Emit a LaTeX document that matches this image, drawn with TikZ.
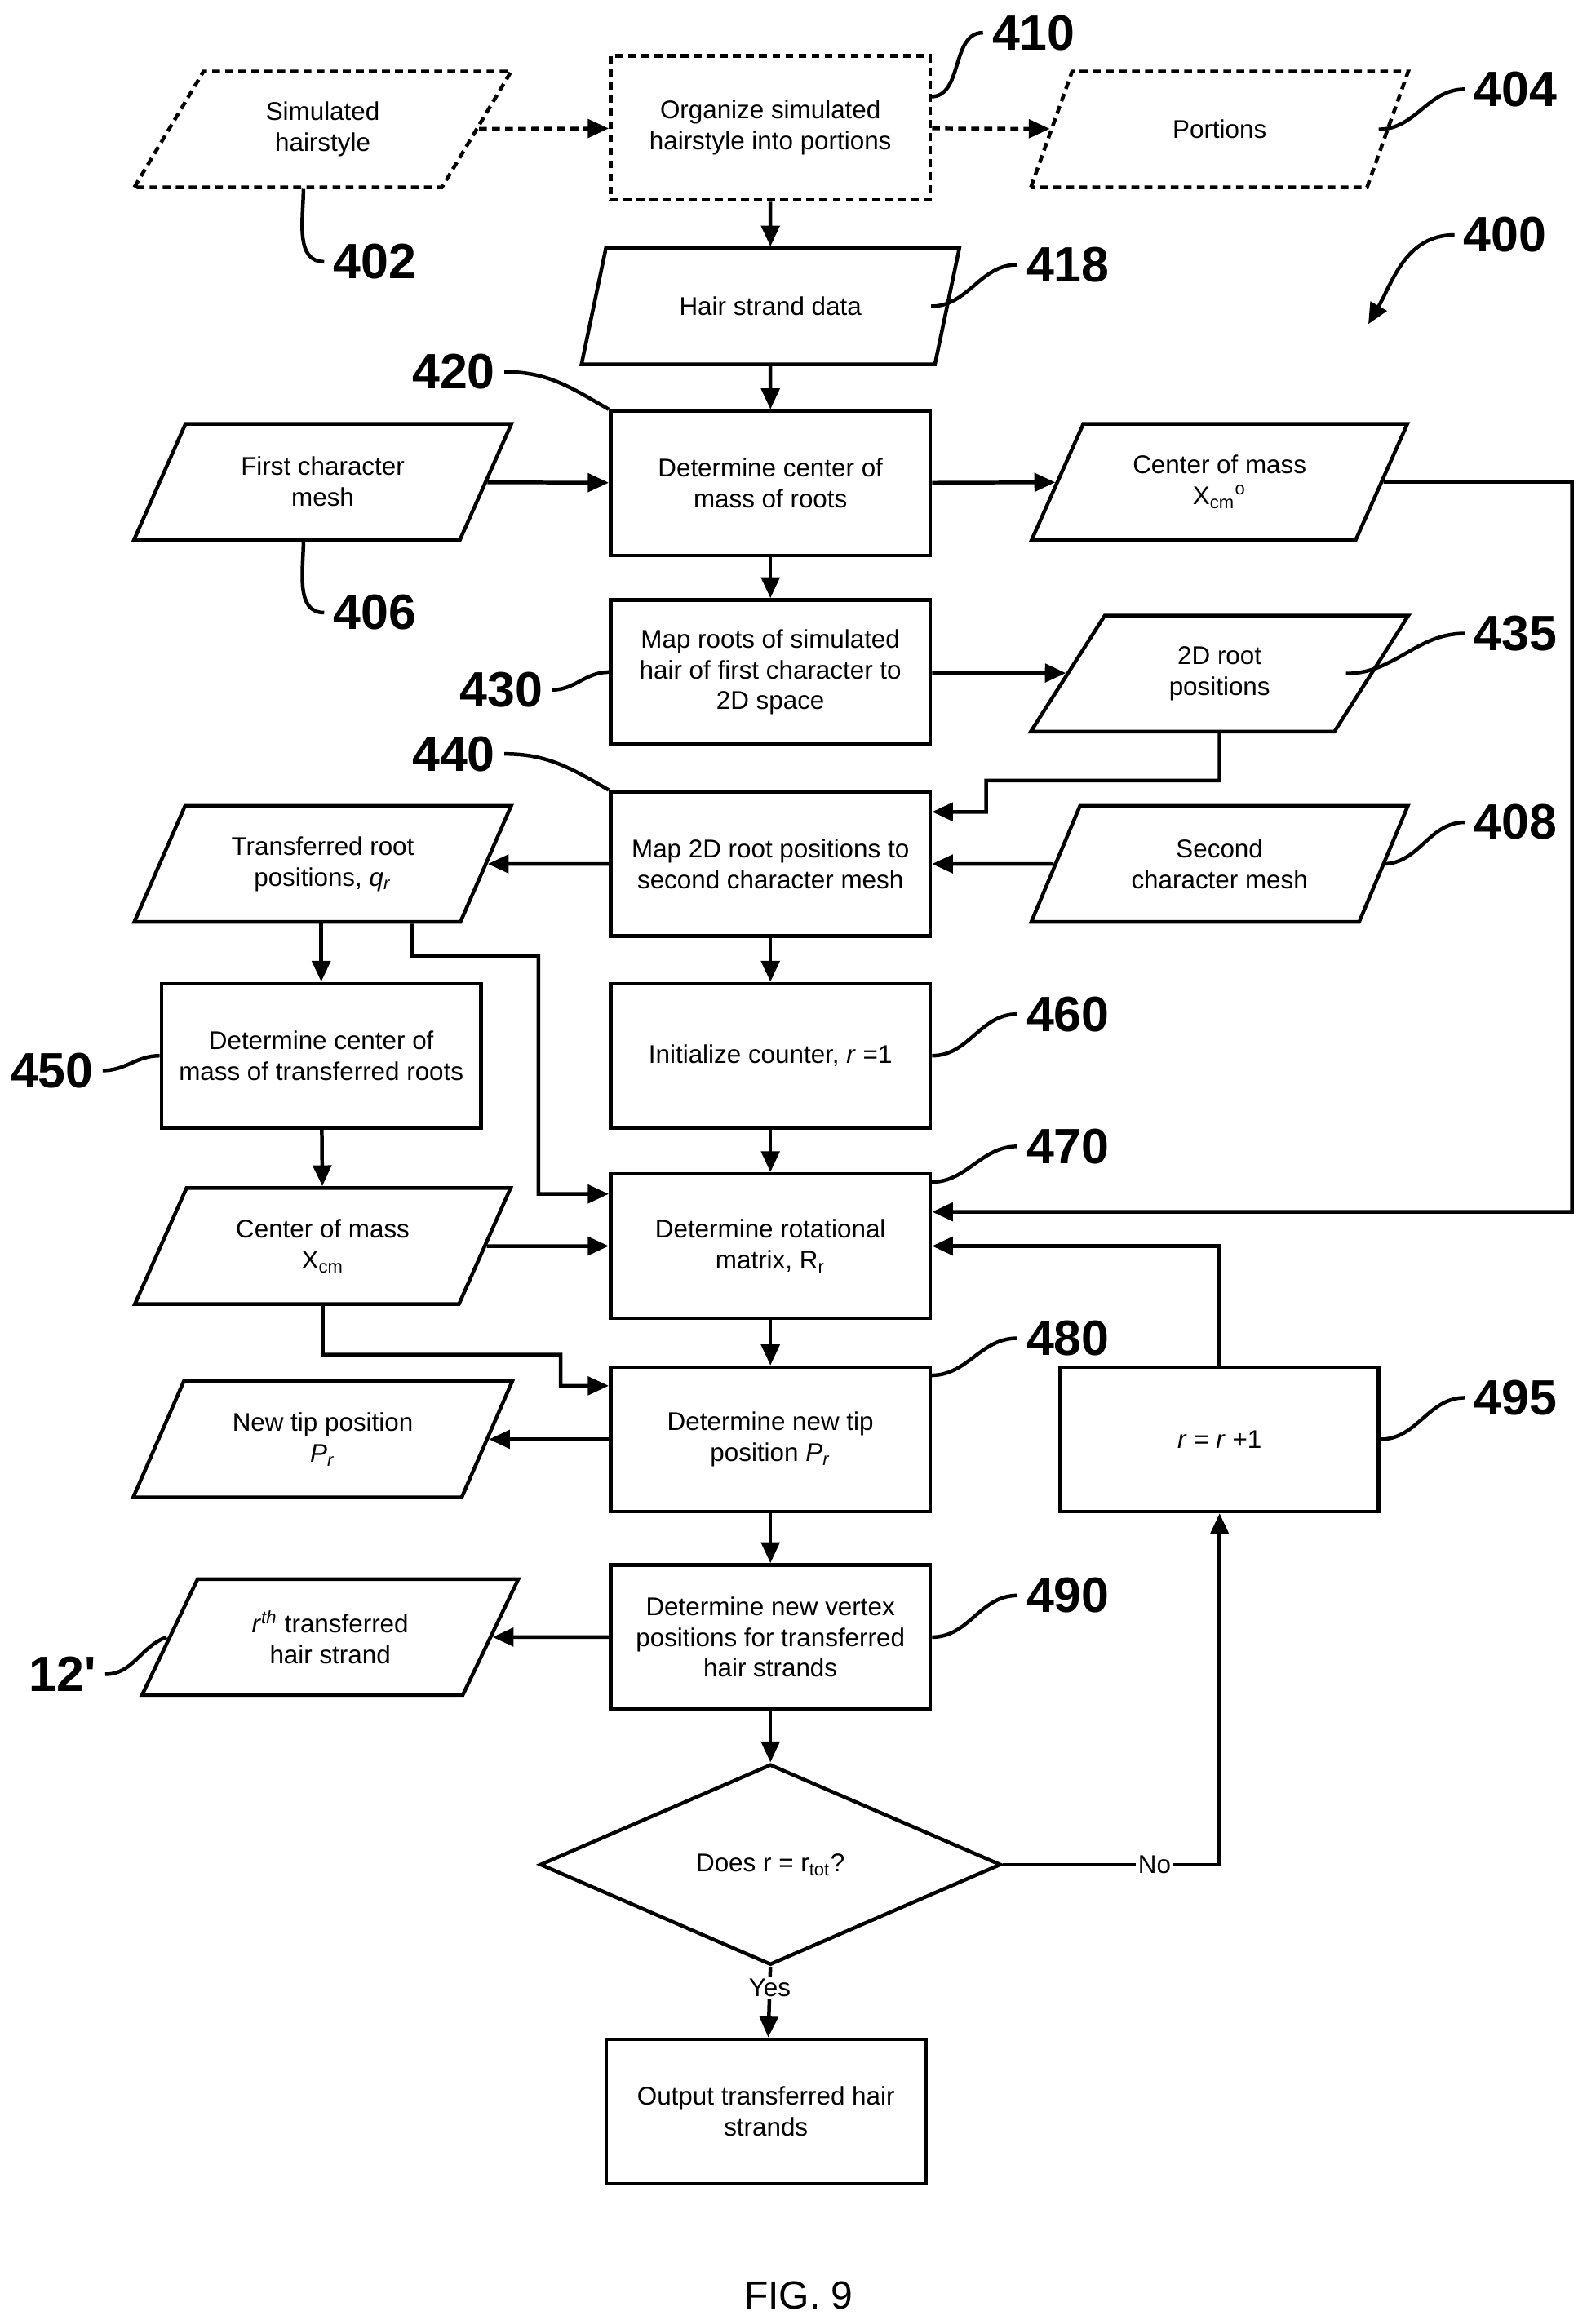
\documentclass[tikz,border=0pt]{standalone}
\usepackage{fontspec}
\setmainfont{Liberation Sans}
\usepackage{tikz}
\usetikzlibrary{positioning,arrows.meta,shapes.geometric}

\begin{document}
\begin{tikzpicture}[x=0.02cm, y=-0.02cm,
        font=\fontsize{9.8}{11.8}\selectfont,
        process/.style={rectangle, draw, line width=1.4pt, minimum width=4.3cm, minimum height=1.94cm, align=center, inner sep=2pt},
        data/.style={trapezium, trapezium left angle=60, trapezium right angle=120, trapezium stretches=true, draw, line width=1.4pt, minimum width=5.1cm, minimum height=1.56cm, align=center, inner sep=1pt},
        test/.style={diamond, draw, line width=1.4pt, minimum width=6.2cm, minimum height=2.7cm, inner sep=0pt},
        opt/.style={dash pattern=on 3pt off 2pt},
        arrow/.style={-{Triangle[length=8pt,width=7pt]}, line width=1.4pt},
        lead/.style={line width=1.4pt},
        num/.style={font=\fontsize{19}{19}\selectfont\bfseries}
    ]
    \useasboundingbox (0,0) rectangle (1067,1563);

    % Top row (optional steps)
    \node[data, opt] (sim) at (217,87) {Simulated\\hairstyle};
    \node[process, opt] (organize) at (518,86) {Organize simulated\\hairstyle into portions};
    \node[data, opt] (portions) at (820,87) {Portions};

    % Main column
    \node[data] (strands) at (518,206) {Hair strand data};
    \node[process] (com) at (518,325) {Determine center of\\mass of roots};
    \node[data] (mesh1) at (217,324) {First character\\mesh};
    \node[data] (comxo) at (820,324) {Center of mass\\X\textsubscript{cm}\textsuperscript{o}};
    \node[process] (maproots) at (518,452) {Map roots of simulated\\hair of first character to\\2D space};
    \node[data] (pos2d) at (820,453) {2D root\\positions};
    \node[process] (map2d) at (518,581) {Map 2D root positions to\\second character mesh};
    \node[data] (transf) at (217,581) {Transferred root\\positions, \textit{q}\textsubscript{\textit{r}}};
    \node[data] (mesh2) at (820,581) {Second\\character mesh};
    \node[process] (comt) at (216,710) {Determine center of\\mass of transferred roots};
    \node[process] (init) at (518,710) {Initialize counter, \textit{r} =1};
    \node[data] (comx) at (217,838) {Center of mass\\X\textsubscript{cm}};
    \node[process] (rot) at (518,838) {Determine rotational\\matrix, R\textsubscript{r}};
    \node[data] (tip) at (217,968) {New tip position\\\textit{P}\textsubscript{\textit{r}}};
    \node[process] (newtip) at (518,968) {Determine new tip\\position \textit{P}\textsubscript{\textit{r}}};
    \node[process, minimum width=4.28cm] (incr) at (820,968) {\textit{r} = \textit{r} +1};
    \node[data] (rth) at (222,1101) {\textit{r}\textsuperscript{\textit{th}} transferred\\hair strand};
    \node[process] (vertex) at (518,1101) {Determine new vertex\\positions for transferred\\hair strands};
    \node[test] (done) at (518,1254) {Does r = r\textsubscript{tot}?};
    \node[process] (output) at (515,1420) {Output transferred hair\\strands};
    \node[font=\fontsize{15}{15}\selectfont] (fig) at (537,1544) {FIG. 9};

    % Connect everything
    \draw[arrow, opt] (sim) -- (organize);
    \draw[arrow, opt] (organize) -- (portions);
    \draw[arrow] (organize) -- (strands);
    \draw[arrow] (strands) -- (com);
    \draw[arrow] (mesh1) -- (com);
    \draw[arrow] (com) -- (comxo);
    \draw[arrow] (com) -- (maproots);
    \draw[arrow] (maproots) -- (pos2d);
    \draw[arrow] (pos2d.south) -- (820,525) -- (663,525) |- ([yshift=0.7cm]map2d.east);
    \draw[arrow] (mesh2) -- (map2d);
    \draw[arrow] (map2d) -- (transf);
    \draw[arrow] (map2d) -- (init);
    \draw[arrow] (transf.south -| comt) -- (comt);
    \draw[arrow] ([xshift=1.2cm]transf.south) -- (277,643) -- (362,643) |- ([yshift=0.7cm]rot.west);
    \draw[arrow] (comt) -- (comx);
    \draw[arrow] (comx) -- (rot);
    \draw[arrow] (init) -- (rot);
    \draw[arrow] (comxo.east) -- (1057,324) |- ([yshift=0.46cm]rot.east);
    \draw[arrow] (rot) -- (newtip);
    \draw[arrow] (comx.south) -- (217,911) -- (377,911) |- ([yshift=0.72cm]newtip.west);
    \draw[arrow] (newtip) -- (tip);
    \draw[arrow] (incr.north) |- (rot.east);
    \draw[arrow] (newtip) -- (vertex);
    \draw[arrow] (vertex) -- (rth);
    \draw[arrow] (vertex) -- (done);
    \draw[arrow] (done.east) -| node[pos=0.35, fill=white, inner sep=1pt] {No} (incr.south);
    \draw[arrow] (done.south) -- node[pos=0.3, fill=white, inner sep=1pt] {Yes} (output);

    % Reference numerals
    \node[num] (n410) at (695,22) {410};
    \node[num] (n404) at (1019,60) {404};
    \node[num] (n402) at (252,176) {402};
    \node[num] (n418) at (718,178) {418};
    \node[num] (n400) at (1012,158) {400};
    \node[num] (n420) at (305,250) {420};
    \node[num] (n406) at (252,412) {406};
    \node[num] (n430) at (337,464) {430};
    \node[num] (n435) at (1019,426) {435};
    \node[num] (n440) at (305,507) {440};
    \node[num] (n408) at (1019,553) {408};
    \node[num] (n450) at (35,720) {450};
    \node[num] (n460) at (718,682) {460};
    \node[num] (n470) at (718,771) {470};
    \node[num] (n480) at (718,900) {480};
    \node[num] (n495) at (1019,940) {495};
    \node[num] (n490) at (718,1073) {490};
    \node[num] (n12) at (42,1126) {12\textquotesingle};

    \draw[lead] (626,65) to[out=0,in=180] (n410.west);
    \draw[lead] (927,87) to[out=0,in=180] (n404.west);
    \draw[lead] (204,127) to[out=-90,in=180] (n402.west);
    \draw[lead] (626,206) to[out=0,in=180] (n418.west);
    \draw[arrow] (n400.west) to[out=180,in=60] (920,218);
    \draw[lead] (n420.east) to[out=0,in=150] (com.north west);
    \draw[lead] (204,364) to[out=-90,in=180] (n406.west);
    \draw[lead] (n430.east) to[out=0,in=180] (maproots.west);
    \draw[lead] (905,453) to[out=0,in=180] (n435.west);
    \draw[lead] (n440.east) to[out=0,in=150] (map2d.north west);
    \draw[lead] (930,581) to[out=0,in=180] (n408.west);
    \draw[lead] (n450.east) to[out=0,in=180] (comt.west);
    \draw[lead] (init.east) to[out=0,in=180] (n460.west);
    \draw[lead] (626,795) to[out=0,in=180] (n470.west);
    \draw[lead] (626,925) to[out=0,in=180] (n480.west);
    \draw[lead] (incr.east) to[out=0,in=180] (n495.west);
    \draw[lead] (vertex.east) to[out=0,in=180] (n490.west);
    \draw[lead] (n12.east) to[out=0,in=200] (112,1101);
\end{tikzpicture}
\end{document}
